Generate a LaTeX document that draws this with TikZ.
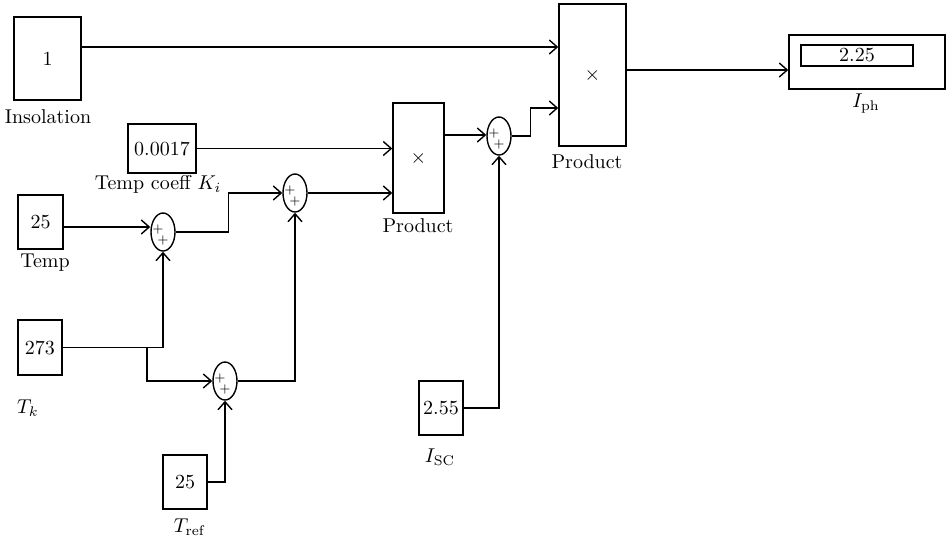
\documentclass[tikz,border=0pt]{standalone}
\usetikzlibrary{shapes.geometric,arrows.meta,calc}
\begin{document}
\begin{tikzpicture}[x=0.5pt,y=-0.5pt,
    blk/.style={draw, line width=0.7pt, inner sep=0pt},
    sumblk/.style={draw, ellipse, line width=0.7pt, minimum width=12pt,
        minimum height=19pt, inner sep=0pt},
    sgn/.style={inner sep=0pt, font=\fontsize{6}{6}\selectfont},
    lbl/.style={inner sep=1pt},
    wire/.style={line width=0.7pt, -{Straight Barb[length=4pt,width=7pt]}}]
    \useasboundingbox (0,0) rectangle (946,542);

    \newcommand{\sumnode}[3]{%
        \node[sumblk] (#1) at (#2,#3) {};
        \node[sgn] (#1p) at ($(#1)+(-5,-3)$) {+};
        \node[sgn] (#1q) at ($(#1)+(0,8)$) {+};
    }

    % Blocs constantes et produits.
    \node[blk, minimum width=33.5pt, minimum height=41.5pt] (ins) at (47.5,58.5) {1};
    \node[blk, minimum width=34pt, minimum height=24.5pt] (kcoef) at (162,148.5) {0.0017};
    \node[blk, minimum width=22.5pt, minimum height=27pt] (temp) at (40.5,222) {25};
    \node[blk, minimum width=22pt, minimum height=27.5pt] (tk) at (40,347.5) {273};
    \node[blk, minimum width=22pt, minimum height=27pt] (tref) at (185,482) {25};
    \node[blk, minimum width=22pt, minimum height=27pt] (isc) at (441,408) {2.55};
    \node[blk, minimum width=25.5pt, minimum height=55pt] (prod1) at (418.5,158) {$\times$};
    \node[blk, minimum width=33.5pt, minimum height=71pt] (prod2) at (592.5,75) {$\times$};
    \node[blk, minimum width=78pt, minimum height=27pt] (disp) at (867,62) {};
    \node[blk, minimum width=56pt, minimum height=10.5pt] (dispval) at (857,55.5) {2.25};

    % Sommateurs.
    \sumnode{s1}{163}{232}
    \sumnode{s2}{295}{193}
    \sumnode{s3}{499}{136}
    \sumnode{s4}{225}{381}

    % Liaisons.
    \draw[wire] ([yshift=5.75pt]ins.east) -- ([yshift=5.75pt]ins.east -| prod2.west);
    \draw[wire] (kcoef.east) -- (kcoef.east -| prod1.west);
    \draw[wire] ([yshift=-2.5pt]temp.east) -- ([yshift=-2.5pt]temp.east -| s1.west);
    \draw[wire] (tk.east) -| (s1.south);
    \coordinate (split) at (147,347.5);
    \draw[wire] (split) |- (s4.west);
    \draw[wire] (s1.east) -- ++(53,0) |- (s2.west);
    \draw[wire] (s4.east) -| (s2.south);
    \draw[wire] (tref.east) -| (s4.south);
    \draw[wire] (s2.east) -- (s2.east -| prod1.west);
    \draw[wire] ([yshift=11.5pt]prod1.east) -- ([yshift=11.5pt]prod1.east -| s3.west);
    \draw[wire] (isc.east) -| (s3.south);
    \draw[wire] (s3.east) -- ++(19,0) |- ([yshift=-16.5pt]prod2.west);
    \draw[wire] ([yshift=2.5pt]prod2.east) -- ([yshift=2.5pt]prod2.east -| disp.west);

    % Libellés.
    \node[lbl] (inslbl) at (48,117) {Insolation};
    \node[lbl] (kcoeflbl) at (158,184) {Temp coeff $K_i$};
    \node[lbl] (templbl) at (45,263) {Temp};
    \node[lbl] (tklbl) at (28,408) {$T_k$};
    \node[lbl] (treflbl) at (190,527) {$T_{\mathrm{ref}}$};
    \node[lbl] (isclbl) at (440,457) {$I_{\mathrm{SC}}$};
    \node[lbl] (prod1lbl) at (418,226) {Product};
    \node[lbl] (prod2lbl) at (587,162) {Product};
    \node[lbl] (displbl) at (866,104) {$I_{\mathrm{ph}}$};
\end{tikzpicture}
\end{document}
